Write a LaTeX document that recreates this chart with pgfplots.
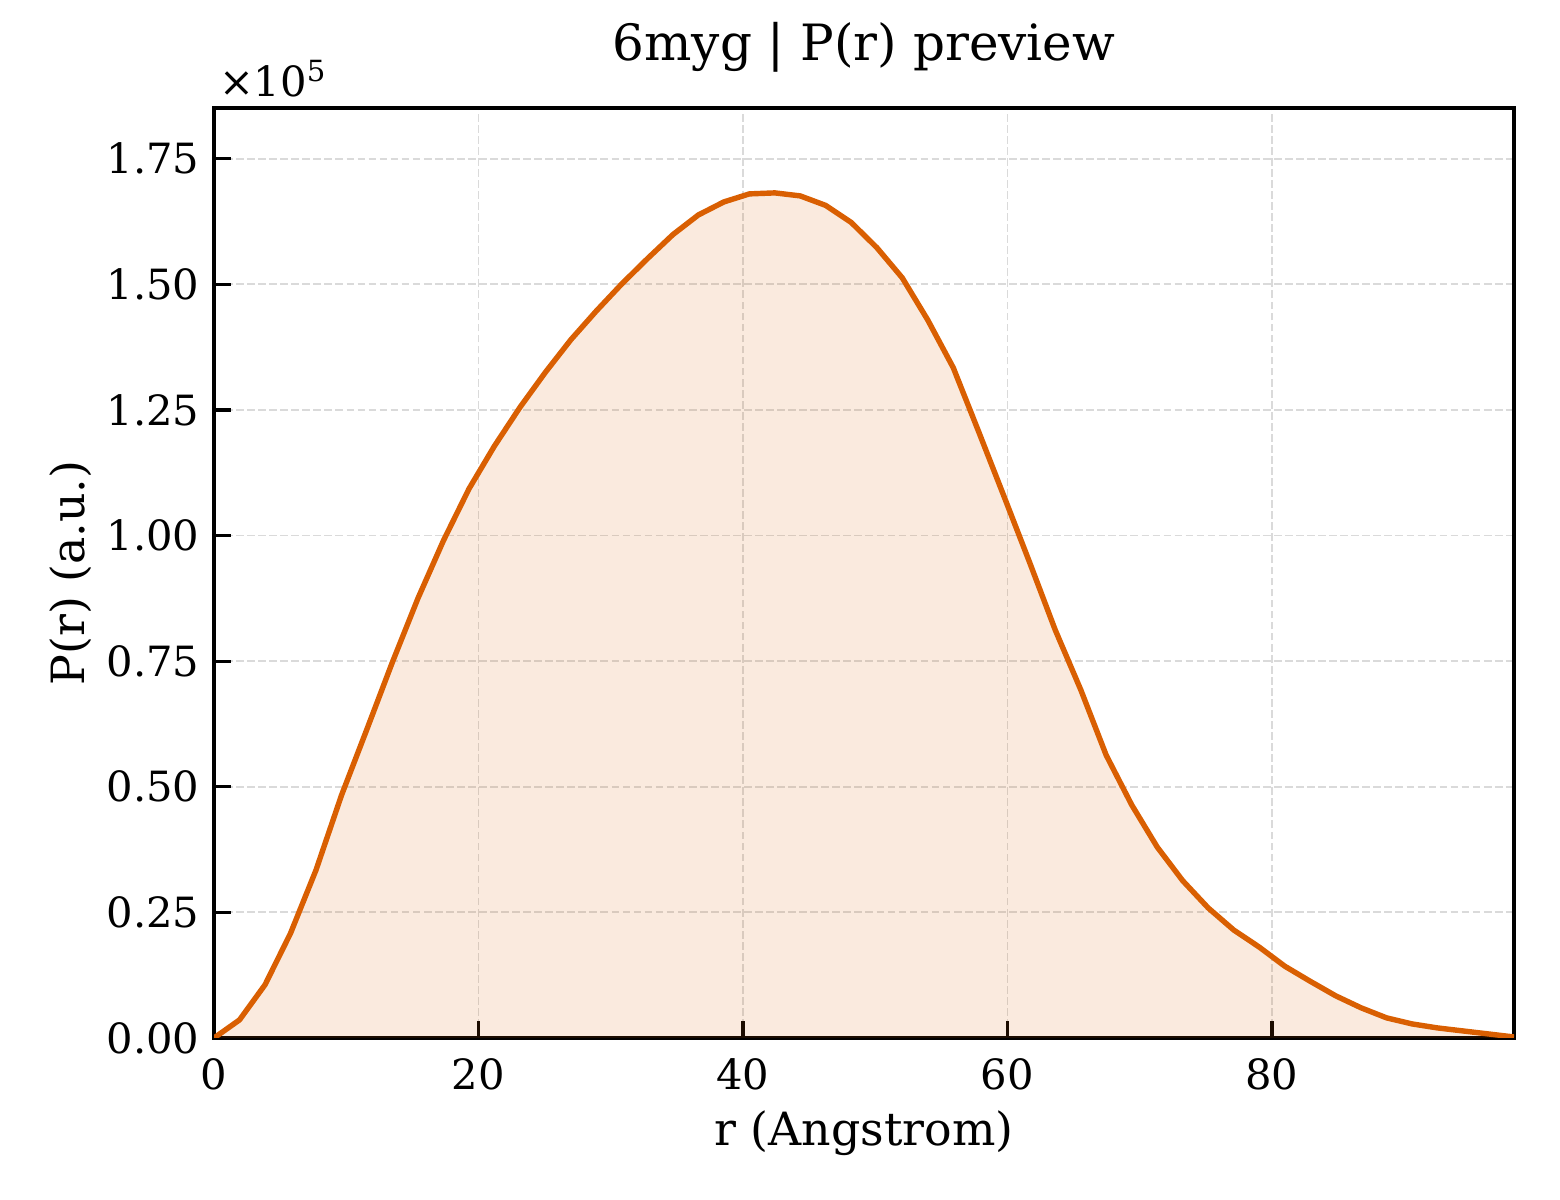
\documentclass[border=0pt]{standalone}
\usepackage{fontspec}
\setmainfont{DejaVu Serif}
\usepackage{pgfplots}
\usepackage{pgfplotstable}
\pgfplotsset{compat=1.18}

\definecolor{pr}{HTML}{D95F02}
\definecolor{gridc}{HTML}{DADADA}

% P(r) in units of 1e5
\pgfplotstableread{
r      p
0.00   0.000
1.93   0.036
3.86   0.106
5.78   0.208
7.71   0.334
9.64   0.483
11.57  0.615
13.49  0.748
15.42  0.875
17.35  0.990
19.28  1.093
21.20  1.178
23.13  1.255
25.06  1.325
26.99  1.390
28.91  1.447
30.84  1.501
32.77  1.551
34.70  1.599
36.62  1.638
38.55  1.664
40.48  1.680
42.41  1.682
44.33  1.676
46.26  1.657
48.19  1.623
50.12  1.573
52.04  1.513
53.97  1.429
55.90  1.334
57.83  1.206
59.75  1.077
61.68  0.946
63.61  0.812
65.54  0.693
67.46  0.563
69.39  0.464
71.32  0.380
73.25  0.313
75.17  0.259
77.10  0.215
79.03  0.181
80.96  0.143
82.88  0.113
84.81  0.084
86.74  0.060
88.67  0.040
90.59  0.028
92.52  0.020
94.45  0.014
96.38  0.008
98.30  0.002
}\prdata

\begin{document}
\begin{tikzpicture}
\path[use as bounding box] (-51.36pt,-38.88pt) rectangle (323.04pt,249.12pt);
\begin{axis}[
    scale only axis,
    width=312pt,
    height=223.2pt,
    xmin=0, xmax=98.3,
    ymin=0, ymax=1.851,
    clip mode=individual,
    xtick={0,20,40,60,80},
    ytick={0,0.25,...,1.75},
    yticklabel style={/pgf/number format/.cd, fixed, fixed zerofill, precision=2},
    /pgf/number format/assume math mode=true,
    tick label style={font=\fontsize{10}{12}\selectfont},
    xticklabel style={yshift=-1.5pt},
    tick align=inside,
    xtick pos=left,
    ytick pos=left,
    major tick length=4pt,
    every tick/.style={black, line width=0.75pt},
    axis line style={line width=0.75pt},
    grid=major,
    major grid style={gridc, line width=0.45pt, dash pattern=on 1.85pt off 0.8pt},
    xlabel={r (Angstrom)},
    ylabel={P(r) (a.u.)},
    label style={font=\fontsize{11}{13}\selectfont},
    xlabel style={at={([yshift=-25.9pt]rel axis cs:0.5,0)}, anchor=base},
    ylabel style={at={([xshift=-31pt]rel axis cs:0,0.5)}, anchor=base, rotate=0},
    title={6myg | P(r) preview},
    title style={font=\fontsize{12}{14}\selectfont, at={([yshift=5.5pt]rel axis cs:0.5,1)}, anchor=base},
]
\addplot[draw=none, fill=pr, fill opacity=0.13] table[x=r, y=p] {\prdata} \closedcycle;
\addplot[pr, line width=1.3pt, line join=round] table[x=r, y=p] {\prdata};
\node[anchor=base west, inner sep=0pt, font=\fontsize{10}{12}\selectfont]
    at ([xshift=1pt, yshift=2.7pt]rel axis cs:0,1) {×10\textsuperscript{5}};
\end{axis}
\end{tikzpicture}
\end{document}
